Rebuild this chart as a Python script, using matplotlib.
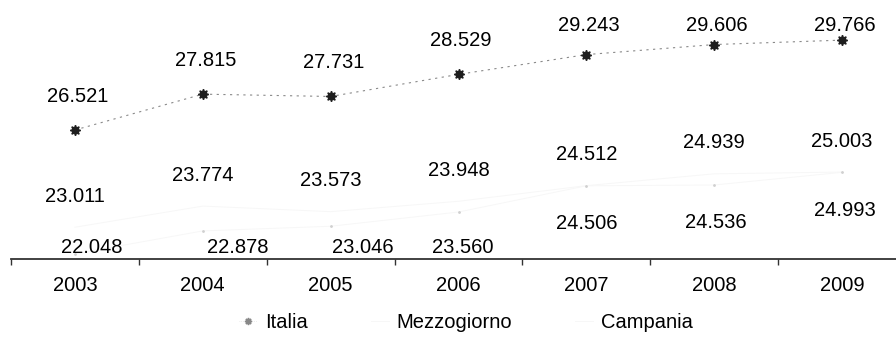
import matplotlib.pyplot as plt
from matplotlib.lines import Line2D

plt.rcParams['font.family'] = ['Liberation Sans', 'DejaVu Sans']

anni = ['2003', '2004', '2005', '2006', '2007', '2008', '2009']
italia = [26.521, 27.815, 27.731, 28.529, 29.243, 29.606, 29.766]
mezzogiorno = [23.011, 23.774, 23.573, 23.948, 24.512, 24.939, 25.003]
campania = [22.048, 22.878, 23.046, 23.560, 24.506, 24.536, 24.993]

# small sideways shift of the campania labels (as in the scan)
camp_dx = [0.13, 0.27, 0.25, 0.03, 0.0, 0.01, 0.02]

fig = plt.figure(figsize=(8.96, 3.38), dpi=100)
ax = fig.add_axes([11 / 896, 79 / 338, 895 / 896, 259 / 338])
x = list(range(len(anni)))

# the two regional lines are almost washed out in the scan
ax.plot(x, mezzogiorno, color='#f7f7f7', lw=0.7)
ax.plot(x, campania, color='#f7f7f7', lw=0.7, marker='.', ms=2, mfc='#d0d0d0', mec='#d0d0d0')
ax.plot(x, italia, color='#8a8a8a', lw=0.8, ls=(0, (2, 4)),
        marker=(8, 1, 0), ms=7.5, mfc='#1e1e1e', mec='#1e1e1e')

top_clamp = 30.276
bot_clamp = 22.297
fs = 14.5
for i in x:
    ax.text(i + 0.02, min(italia[i] + 1.227, top_clamp), f'{italia[i]:.3f}',
            ha='center', va='center', fontsize=fs)
    ax.text(i + 0.0, mezzogiorno[i] + 1.119, f'{mezzogiorno[i]:.3f}',
            ha='center', va='center', fontsize=fs)
    ax.text(i + camp_dx[i], max(campania[i] - 1.372, bot_clamp), f'{campania[i]:.3f}',
            ha='center', va='center', fontsize=fs)

ax.set_xlim(-0.5, 6.5)
ax.set_ylim(21.864, 31.214)
ax.set_yticks([])
ax.set_xticks(x)
ax.set_xticklabels(anni, fontsize=fs)
ax.set_xticks([i - 0.5 for i in range(len(anni) + 1)], minor=True)
ax.tick_params(axis='x', which='major', length=0, pad=12)
ax.tick_params(axis='x', which='minor', length=4, width=1, color='#333333', direction='out')
for s in ['top', 'right', 'left']:
    ax.spines[s].set_visible(False)
ax.spines['bottom'].set_color('#333333')
ax.spines['bottom'].set_linewidth(1.3)

handles = [
    Line2D([], [], color='#dddddd', lw=0.5, ls=':', marker=(8, 1, 0), ms=5, mfc='#888888', mec='#888888'),
    Line2D([], [], color='#f7f7f7', lw=0.7),
    Line2D([], [], color='#f7f7f7', lw=0.7),
]
fig.legend(handles, ['Italia', 'Mezzogiorno', 'Campania'], loc='center',
           bbox_to_anchor=(466 / 896, 15 / 338), ncol=3, frameon=False,
           fontsize=fs, handlelength=0.9, handletextpad=0.4, columnspacing=3.1)

fig.savefig('out.png', dpi=100)
